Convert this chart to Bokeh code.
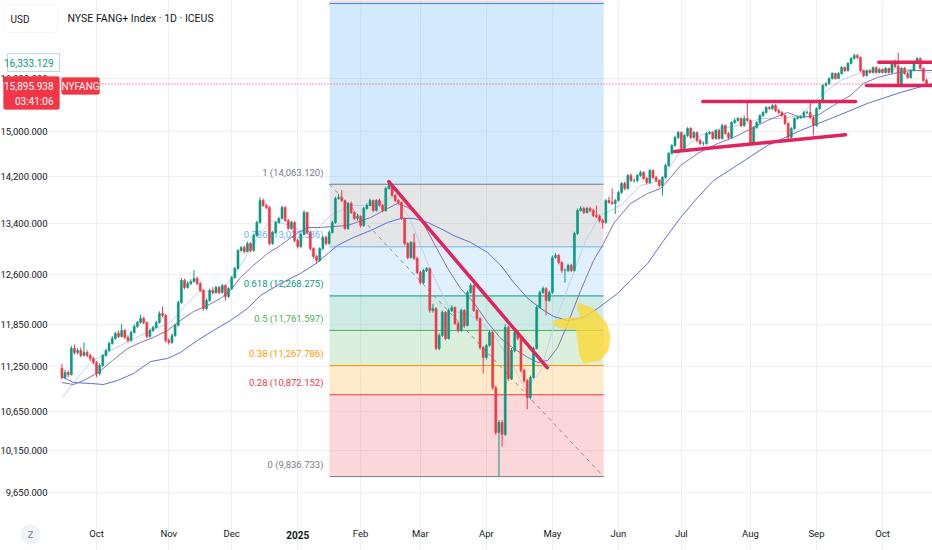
import numpy as np
import pandas as pd
from bokeh.plotting import figure
from bokeh.models import ColumnDataSource, FixedTicker, Label, Range1d, BoxAnnotation
from bokeh.core.properties import value
from bokeh.embed import file_html
from bokeh.resources import INLINE

FONT = "Roboto"
INK = "#131722"

# ---------------- data ----------------
first_day = "2024-09-16"
last_day = "2025-10-21"
market_holidays = ["2024-11-28", "2024-12-25", "2025-01-01", "2025-01-09", "2025-01-20",
                   "2025-02-17", "2025-04-18", "2025-05-26", "2025-06-19", "2025-07-04",
                   "2025-09-01"]
first_open = 11227

close = [11104,11172,11145,11505,11449,11477,11407,11449,11407,11365,
         11309,11158,11268,11407,11477,11575,11646,11718,11675,11761,
         11661,11618,11732,11819,11876,11934,11876,11675,11761,11804,
         11876,12008,11978,11618,11590,11689,11833,12170,12502,12396,
         12456,12487,12533,12456,12350,12082,12200,12350,12320,12396,
         12320,12426,12260,12380,12548,12687,12969,13017,12953,13081,
         12969,13209,13421,13787,13703,13670,13081,13258,13421,13487,
         13670,13454,13323,13421,13129,13033,13225,13586,13258,13001,
         12874,12812,13001,13177,13081,13258,13421,13821,13837,13787,
         13323,13737,13586,13487,13520,13372,13653,13703,13787,13619,
         13787,13703,13619,13990,14042,13871,13787,13753,13487,13081,
         12859,13097,12843,12625,12471,12656,12687,12052,12082,11505,
         11689,12023,11646,12052,12097,11862,11761,12052,11833,12320,
         12426,12052,11934,11519,11379,11547,11732,10969,10382,10509,
         10357,11804,11090,11477,11732,11646,11199,11063,10836,11104,
         11505,12097,12320,12380,12200,12320,12859,12890,12781,12656,
         12656,12734,12656,13241,13619,13653,13586,13653,13619,13536,
         13520,13454,13421,13787,13753,13737,13787,13922,14076,13990,
         14215,14128,14128,14215,14267,14163,14093,14302,14180,14128,
         14042,14180,14390,14602,14746,14891,14982,14692,14927,15055,
         14891,14982,14836,14782,14782,14963,14982,14873,15018,14873,
         15110,14963,14891,15165,15203,15240,15110,15240,15203,14782,
         15073,15165,15296,15352,15447,15428,15485,15390,15352,15296,
         15147,14891,15055,15240,15259,15278,15352,15352,15259,15110,
         15428,15579,15868,15907,16004,16102,16004,16102,16220,16161,
         16300,16400,16460,16420,16161,16063,16161,16122,16220,16122,
         16181,16122,16201,16122,16320,16240,15888,16201,16102,16024,
         16161,16320,16400,16201,15965,15895.938]

high = [11290,11210,11200,11540,11560,11510,11520,11590,11480,11430,
        11390,11330,11300,11430,11500,11600,11680,11740,11760,11850,
        11780,11690,11760,11850,11900,11990,11960,11890,11790,11830,
        11900,12040,12110,12000,11650,11720,11860,12200,12540,12530,
        12490,12520,12660,12560,12480,12370,12230,12380,12400,12420,
        12420,12450,12440,12400,12570,12710,12990,13040,13050,13110,
        13100,13240,13450,13840,13820,13730,13690,13280,13440,13510,
        13700,13690,13480,13450,13440,13160,13250,13620,13600,13280,
        13020,12900,13020,13200,13210,13290,13450,13850,13900,13960,
        13800,13760,13770,13610,13560,13540,13680,13740,13820,13800,
        13810,13820,13730,14020,14110,14063,13900,13810,13770,13500,
        13100,13120,13240,12870,12650,12680,12710,12700,12150,12100,
        11720,12050,12040,12080,12130,12110,11890,12080,12070,12350,
        12460,12440,12070,11950,11540,11570,11760,11750,10990,10540,
        10540,11850,11830,11510,11760,11770,11670,11220,11080,11130,
        11530,12130,12350,12410,12400,12350,12890,12930,12910,12800,
        12690,12760,12760,13270,13650,13690,13680,13680,13680,13650,
        13700,13550,13480,13810,13850,13990,13810,13950,14100,14110,
        14240,14250,14160,14240,14300,14290,14190,14330,14320,14210,
        14150,14200,14420,14630,14770,14920,15010,15000,14950,15080,
        15080,15010,15000,14860,14820,14990,15010,15000,15040,15040,
        15140,15130,14990,15190,15250,15270,15260,15300,15579,15220,
        15100,15190,15320,15380,15470,15470,15510,15510,15420,15380,
        15320,15170,15080,15260,15290,15300,15380,15390,15560,15280,
        15450,15600,15890,15930,16030,16130,16120,16130,16250,16240,
        16330,16430,16500,16490,16440,16180,16180,16190,16240,16240,
        16210,16200,16230,16220,16350,16380,16513,16230,16230,16130,
        16180,16350,16430,16420,16220,16000]

low = [11080,11080,11110,11130,11420,11420,11380,11390,11380,11330,
       11280,11110,11130,11250,11390,11460,11560,11630,11650,11660,
       11640,11590,11600,11720,11800,11860,11850,11650,11660,11740,
       11790,11860,11950,11590,11560,11570,11670,11820,12150,12370,
       12380,12430,12470,12430,12320,12050,12060,12180,12290,12300,
       12290,12300,12200,12240,12360,12530,12670,12950,12920,12940,
       12940,12950,13190,13400,13680,13640,13050,13060,13240,13400,
       13470,13430,13300,13300,13100,13000,13010,13210,13230,12970,
       12840,12760,12790,12980,13050,13060,13240,13400,13800,13760,
       13300,13300,13560,13460,13450,13340,13350,13630,13690,13590,
       13600,13680,13590,13600,13970,13850,13760,13720,13460,13050,
       12830,12840,12820,12600,12440,12450,12630,12020,12020,11480,
       11480,11670,11620,11630,12030,11840,11730,11740,11800,11820,
       12300,12030,11900,11490,11160,11350,11530,10940,10350,9836.733,
       10200,10340,11060,11070,11450,11620,11170,11030,10680,10810,
       11090,11490,12080,12300,11980,12180,12300,12840,12750,12620,
       12470,12630,12630,12640,13220,13600,13560,13570,13590,13510,
       13490,13420,13320,13400,13730,13710,13560,13770,13900,13960,
       13970,14100,14090,14100,14190,14140,14060,14070,14150,14100,
       14010,13870,14160,14370,14580,14720,14860,14660,14670,14900,
       14860,14870,14800,14750,14740,14760,14940,14850,14850,14850,
       14850,14940,14860,14870,15140,15180,15080,15090,15180,14750,
       14760,15050,15140,15270,15330,15400,15400,15360,15320,15270,
       15120,14860,14870,15030,15220,15230,15250,15320,15230,14930,
       15090,15400,15560,15850,15880,15980,15980,15990,16080,16130,
       16140,16280,16380,16390,16130,16030,16040,16100,16100,16100,
       16100,16100,16100,16100,16100,16210,15860,15870,16080,16000,
       16000,16140,16300,16180,15940,15870]

# moving averages read at sparse points (bar index, price)
ma_mid_x = [0,3.7,6.9,11.6,16.1,20.9,25.0,29.1,33.6,37.7,41.9,46.3,50.4,53.6,56.8,60.9,65.4,69.5,73.7,78.1,
            82.3,90.9,98.2,103.6,106.8,110.0,114.1,118.2,122.7,126.8,131.0,135.4,139.6,143.7,148.2,151.4,154.5,
            157.7,160.9,165.0,169.1,172.3,175.5,180.9,186.3,190.4,193.6,196.8,202.2,208.6,213.7,224.4,230.8,
            234.9,240.3,245.4,250.8,254.9,259.4,264.5,269.9,276.9]
ma_mid_y = [11036,11009,11063,11172,11337,11505,11590,11661,11761,11905,12037,12126,12230,12350,12548,12734,
            12922,13049,13209,13339,13339,13372,13503,13653,13737,13670,13487,13097,12687,12380,12170,11876,
            11646,11505,11379,11309,11337,11519,11862,12350,12812,13081,13405,13737,13905,13990,14180,14390,
            14602,14782,14891,15203,15352,15259,15296,15485,15675,15907,16024,16102,16161,16161]
ma_slow_x = [0,3.7,9.1,13.2,17.7,22.8,28.2,33.6,37.7,43.1,48.2,53.6,59.0,63.2,69.5,75.9,81.3,87.6,92.7,98.2,
             103.6,107.8,111.9,116.3,120.4,124.6,130.0,135.4,139.6,143.7,148.2,152.3,156.4,160.9,165.9,170.4,
             176.7,180.9,186.3,191.4,196.8,202.2,207.3,213.7,224.4,234.9,245.4,256.2,266.7,276.9]
ma_slow_y = [11118,11036,11023,11009,11063,11158,11323,11365,11449,11618,11761,11905,12082,12275,12456,12610,
             12781,13049,13177,13290,13421,13487,13487,13421,13323,13209,13097,12938,12734,12471,12230,12082,
             11963,11905,11949,12082,12305,12502,12765,13129,13503,13837,14128,14355,14746,15018,15259,15523,
             15732,15907]
ma_fast_x = [0.2,4.3,9.1,15.5,21.8,28.2,34.5,39.3,44.0,50.4,56.8,61.6,66.4,72.7,79.1,85.4,91.8,99.7,106.1,
             110.9,117.3,123.6,130.0,136.3,142.7,147.5,152.3,157.0,161.8,166.6,171.3,177.7,184.1,190.4,196.8,
             203.1,209.5,215.8,222.2,228.6,234.9,241.3,247.6,254.0,260.4,266.7,276.3]
ma_fast_y = [10836,11063,11309,11477,11618,11761,11876,12126,12350,12320,12734,13129,13454,13372,13209,13536,
             13703,13703,13871,13454,12656,12052,11978,11761,11337,10929,11199,11905,12502,13129,13536,13703,
             14042,14128,14656,14927,15055,15110,15240,15240,15296,15675,15965,16122,16161,16201,16122]

# Fibonacci retracement (log scale) drawn between two anchors
fib_low = 9836.733
fib_high = 14063.120
fib_x0, fib_x1 = 85.1, 172.3
fib_label_x = 83.2
fib_levels = [0, 0.28, 0.38, 0.5, 0.618, 0.786, 1, 1.618, 2.618]
fib_colors = ["#787b86", "#f23645", "#ff9800", "#4caf50", "#089981", "#64b5f6", "#787b86", "#2196f3", "#f23645"]

# hand-drawn trend lines (bar index, price)
tl_x0 = [103.97, 194.84, 203.84, 259.82, 255.91]
tl_y0 = [14110, 14638, 15560, 16326, 15868]
tl_x1 = [154.35, 249.23, 252.41, 277.5, 277.5]
tl_y1 = [11237, 14940, 15560, 16326, 15868]

# yellow highlighter blob
blob_x = [163.9,169.1,173.4,174.5,173.8,171.3,165.9,164.6,164.0,163.4,158.6,156.3,156.4,160.7,164.9,163.9]
blob_y = [12175,12082,11862,11665,11477,11337,11296,11407,11618,11775,11790,11833,11905,11949,11954,12082]

price_ticks = [9650, 10150, 10650, 11250, 11850, 12600, 13400, 14200, 15000, 16000]
last_price = 15895.938
marker_price = "16,333.129"
countdown = "03:41:06"
symbol = "NYFANG"
currency = "USD"
title = "NYSE FANG+ Index \u00b7 1D \u00b7 ICEUS"

# ---------------- build ----------------
days = pd.bdate_range(first_day, last_day)
days = days[~days.isin(pd.to_datetime(market_holidays))]
n = len(days)
idx = np.arange(n)
opens = [first_open] + close[:-1]
up = [c >= o for o, c in zip(opens, close)]
GREEN, RED = "#089981", "#f23645"
src = ColumnDataSource(dict(
    x=idx, h=[max(h, o, c) for h, o, c in zip(high, opens, close)],
    l=[min(l, o, c) for l, o, c in zip(low, opens, close)],
    top=[max(o, c) for o, c in zip(opens, close)],
    bottom=[min(o, c) for o, c in zip(opens, close)],
    color=[GREEN if u else RED for u in up]))

month_ticks, month_labels = [], []
for i in range(1, n):
    if days[i].month != days[i - 1].month:
        month_ticks.append(i)
        month_labels.append(str(days[i].year) if days[i].month == 1 else days[i].strftime("%b"))

# chart pane edges (bar index / price); the frame spans the whole canvas, axes are pinned inside it
pane_left, pane_right = -0.45, 277.5
pane_bottom, pane_top = 9415, 17605

p = figure(width=932, height=550, output_backend="svg", toolbar_location=None,
           x_range=Range1d(-19.535, 276.9), y_range=Range1d(8987, 17605), y_axis_type="log",
           min_border_left=0, min_border_right=0, min_border_top=0, min_border_bottom=0)
p.outline_line_color = None
p.background_fill_color = "white"
p.border_fill_color = "white"

# grid
p.xgrid.ticker = FixedTicker(ticks=month_ticks)
p.ygrid.ticker = FixedTicker(ticks=price_ticks)
p.xgrid.bounds = (pane_bottom, pane_top)
p.ygrid.bounds = (pane_left, pane_right)
p.xgrid.grid_line_color = "#eef0f4"
p.ygrid.grid_line_color = "#eef0f4"

# axes
ya = p.yaxis[0]
ya.ticker = FixedTicker(ticks=price_ticks)
ya.major_label_overrides = {t: f"{t:,.3f}" for t in price_ticks}
ya.fixed_location = pane_left
ya.major_label_standoff = 7
xa = p.xaxis[0]
xa.ticker = FixedTicker(ticks=month_ticks)
xa.major_label_overrides = {t: ("" if lab.isdigit() else lab) for t, lab in zip(month_ticks, month_labels)}
xa.fixed_location = pane_bottom
xa.major_label_standoff = 10
for ax in (xa, ya):
    ax.axis_line_color = None
    ax.major_tick_line_color = None
    ax.minor_tick_line_color = None
    ax.major_label_text_font = FONT
    ax.major_label_text_font_size = "9.5px"
    ax.major_label_text_color = INK

# fib bands
lo, hi = np.log(fib_low), np.log(fib_high)
lvl_price = [float(np.exp(lo + r * (hi - lo))) for r in fib_levels]
for k in range(1, len(fib_levels)):
    p.quad(left=fib_x0, right=fib_x1, bottom=lvl_price[k - 1], top=lvl_price[k],
           fill_color=fib_colors[k], fill_alpha=0.2, line_alpha=0)
p.segment(x0=[fib_x0] * len(fib_levels), x1=[fib_x1] * len(fib_levels), y0=lvl_price, y1=lvl_price,
          line_color=fib_colors, line_width=1)
p.segment(x0=[fib_x0], y0=[fib_high], x1=[fib_x1], y1=[fib_low], line_color="#8a8d96",
          line_dash="4 4", line_width=1)
lab_n = len(fib_levels) - 1
p.text(x=[fib_label_x] * lab_n, y=lvl_price[:lab_n],
       text=[f"{r:g} ({v:,.3f})" for r, v in zip(fib_levels[:lab_n], lvl_price[:lab_n])],
       text_color=fib_colors[:lab_n], text_align="right", text_baseline="middle", y_offset=-12,
       text_font=value(FONT), text_font_size="9.5px")

# moving averages
p.line(ma_fast_x, ma_fast_y, line_color="#bcd0f2", line_width=1)
p.line(ma_slow_x, ma_slow_y, line_color="#5c6fd6", line_width=1)
p.line(ma_mid_x, ma_mid_y, line_color="#8470b8", line_width=1)

# candles
p.segment(x0="x", x1="x", y0="l", y1="h", line_color="color", line_width=1, source=src)
p.vbar(x="x", width=0.62, top="top", bottom="bottom", fill_color="color", line_color="color",
       line_width=0.6, source=src)

# current price line
p.segment(x0=[pane_left], x1=[pane_right], y0=[last_price], y1=[last_price], line_color=RED,
          line_dash="1 2", line_width=1)

# trend lines
p.segment(x0=tl_x0, y0=tl_y0, x1=tl_x1, y1=tl_y1, line_color="#e0245e", line_width=3.5, line_cap="round")

# highlighter
p.patch(blob_x, blob_y, fill_color="#fdd835", fill_alpha=0.8, line_alpha=0)

# ---------------- chrome (canvas pixels) ----------------
def box(l, r, t, b, **kw):
    p.add_layout(BoxAnnotation(left=l, right=r, top=t, bottom=b, left_units="canvas", right_units="canvas",
                               top_units="canvas", bottom_units="canvas", fill_alpha=1, **kw))

def lab(text, x, y, **kw):
    kw.setdefault("text_font", FONT)
    kw.setdefault("text_font_size", "9.5px")
    kw.setdefault("text_baseline", "middle")
    p.add_layout(Label(x=x, y=y, x_units="canvas", y_units="canvas", text=text, **kw))

box(3, 57, 4, 32, fill_color="white", line_color="#e0e3eb", line_width=1, border_radius=4)
lab(currency, 10, 19, text_color=INK, text_font_size="10px")
lab(title, 67, 18, text_color=INK, text_font_size="10.5px")

box(7, 59, 53, 71, fill_color="white", line_color=GREEN, line_width=1)
lab(marker_price, 53, 62, text_color=GREEN, text_align="right", text_font_size="10px")

box(3, 59, 76, 109, fill_color=RED, line_color=RED, border_radius=2)
lab(f"{last_price:,.3f}", 53, 85, text_color="white", text_align="right", text_font_size="10px")
lab(countdown, 53, 101, text_color="white", text_align="right", text_font_size="10px")
box(61, 99, 77, 94, fill_color=RED, line_color=RED, border_radius=2)
lab(symbol, 80, 85.5, text_color="white", text_align="center", text_font_size="10px")

year_i = [t for t, l in zip(month_ticks, month_labels) if l.isdigit()][0]
p.add_layout(Label(x=year_i, y=534, x_units="data", y_units="canvas", text="2025", text_align="center",
                   text_baseline="middle", text_font=FONT, text_font_size="10px", text_font_style="bold",
                   text_color=INK))
box(20, 40, 524, 544, fill_color="#f0f3fa", line_color="#f0f3fa", border_radius=10)
lab("Z", 30, 534, text_color="#787b86", text_align="center")

open("out.html", "w").write(file_html(p, INLINE))
